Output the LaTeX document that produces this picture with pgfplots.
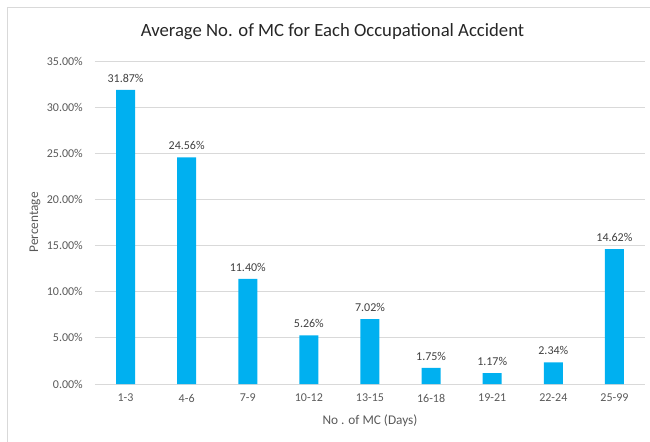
\documentclass[border=0pt]{standalone}
\usepackage{fontspec}
\setmainfont{Carlito}
\usepackage{pgfplots}
\pgfplotsset{compat=1.18}
\definecolor{barblue}{HTML}{00B0F0}
\definecolor{gridgray}{HTML}{D9D9D9}
\definecolor{txtgray}{HTML}{595959}
\definecolor{lblgray}{HTML}{404040}
\begin{document}
\begin{tikzpicture}
\useasboundingbox (-95bp,-58bp) rectangle (555bp,384bp);
\draw[gridgray, line width=0.8bp] (-88bp,-70bp) rectangle (562bp,377bp);
\begin{axis}[
  at={(0,0)}, anchor=south west,
  scale only axis,
  width=550bp, height=323bp,
  xmin=-0.5, xmax=8.5,
  ymin=0, ymax=35,
  ytick={0,5,...,35},
  xtick={0,...,8},
  xticklabels={1-3,4-6,7-9,10-12,13-15,16-18,19-21,22-24,25-99},
  axis line style={draw=none},
  major tick length=0pt,
  ymajorgrids,
  grid style={gridgray, line width=0.8bp},
  /pgf/number format/assume math mode=true,
  yticklabel={\pgfmathprintnumber[fixed,fixed zerofill,precision=2]{\tick}\%},
  ticklabel style={font=\fontsize{12bp}{14bp}\selectfont, text=txtgray},
  yticklabel style={inner sep=0pt, xshift=-12bp},
  xticklabel style={inner sep=0pt, yshift=-10bp},
  xlabel={No . of MC (Days)},
  label style={font=\fontsize{13.3bp}{15bp}\selectfont, text=txtgray},
  xlabel style={at={(axis description cs:0.5,0)}, anchor=center, yshift=-37bp},
  clip=false,
]
\addplot[ybar, bar width=19bp, fill=barblue, draw=none,
  nodes near coords={\pgfmathprintnumber[fixed,fixed zerofill,precision=2,assume math mode=true]{\pgfplotspointmeta}\%},
  every node near coord/.append style={font=\fontsize{12bp}{14bp}\selectfont, text=lblgray, yshift=4bp}]
  coordinates {(0,31.87) (1,24.56) (2,11.40) (3,5.26) (4,7.02) (5,1.75) (6,1.17) (7,2.34) (8,14.62)};
\end{axis}
\node[font=\fontsize{18.7bp}{21bp}\selectfont, text=black!85] at (237.5bp,352bp) {Average No. of MC for Each Occupational Accident};
\node[font=\fontsize{13.3bp}{15bp}\selectfont, text=txtgray, rotate=90] at (-60bp,161.5bp) {Percentage};
\end{tikzpicture}
\end{document}
